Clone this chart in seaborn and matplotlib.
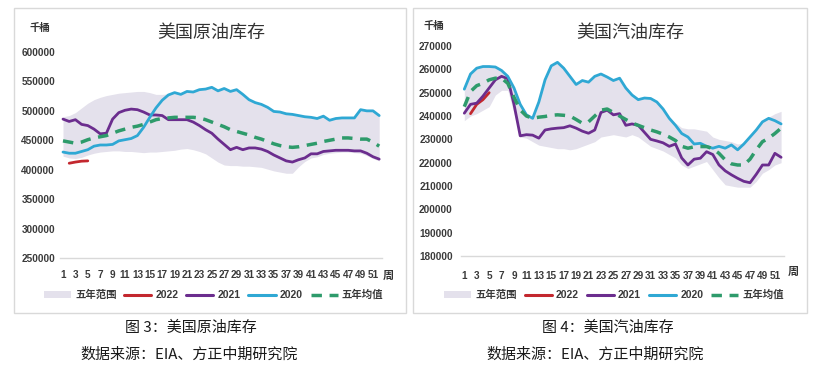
import numpy as np
import pandas as pd
import matplotlib
matplotlib.use("Agg")
import matplotlib.pyplot as plt
import seaborn as sns
from matplotlib.patches import Patch, Rectangle
from matplotlib.lines import Line2D

# ---------------- data (thousand barrels, weekly) ----------------
weeks = list(range(1, 53))
weeks_2022 = [2, 3, 4, 5]

crude_2020 = [430, 428, 428, 431, 434, 440, 442, 442, 443, 449,
              451, 453, 458, 472, 489, 505, 518, 527, 531, 528,
              533, 532, 536, 537, 540, 534, 538, 533, 536, 528,
              519, 514, 511, 506, 499, 498, 495, 494, 492, 490,
              489, 487, 491, 484, 487, 488, 488, 488, 502, 500,
              500, 492]
crude_2021 = [486, 482, 485, 477, 475, 469, 461, 462, 486, 497,
              501, 503, 502, 498, 493, 493, 492, 485, 485, 485,
              485, 481, 475, 468, 462, 452, 443, 434, 438, 434,
              437, 437, 435, 431, 425, 420, 415, 413, 417, 420,
              427, 427, 431, 432, 433, 433, 433, 432, 432, 428,
              422, 418]
crude_2022 = [411, 413, 414.5, 415]
crude_avg = [449, 447, 445, 447, 451, 454, 456, 458, 462, 466,
             469, 472, 474, 477, 481, 485, 487, 488, 489, 489,
             489, 489, 488, 485, 481, 477, 473, 468, 465, 462,
             459, 455, 452, 448, 444, 441, 439, 438, 439, 441,
             443, 445, 448, 450, 452, 454, 454, 453, 452, 452,
             447, 440]
crude_hi = [490, 492, 497, 505, 513, 519, 523, 526, 528, 530,
            531, 532, 533, 533, 531, 528, 528, 529, 532, 530,
            534, 533, 537, 538, 541, 536, 539, 535, 537, 529,
            520, 515, 512, 507, 500, 499, 496, 495, 493, 491,
            490, 488, 492, 485, 488, 489, 489, 489, 503, 501,
            501, 493]
crude_lo = [423, 420, 419, 421, 425, 428, 430, 431, 432, 432,
            431, 431, 430, 429, 430, 430, 431, 432, 433, 435,
            436, 434, 431, 427, 420, 413, 408, 407, 407, 406,
            406, 405, 404, 401, 398, 396, 394, 394, 405, 414,
            420, 422, 426, 428, 429, 430, 430, 429, 428, 424,
            419, 415]

gas_2020 = [251.5, 258, 260.5, 261.2, 261.2, 261, 259.5, 257, 252, 245,
            240.5, 239, 246, 255.5, 261.5, 263, 260.5, 257, 253.5, 255.2,
            254.5, 257, 258, 256.7, 255.2, 256.2, 252, 249, 247, 247.7,
            247.5, 246, 243, 239, 236, 232.5, 231, 228, 228.3, 227,
            226.2, 227, 226.2, 227.6, 225.5, 228, 231, 234, 237.5, 239,
            238, 236.6]
gas_2021 = [241.2, 245, 245.5, 248.5, 252, 255.5, 257, 256, 245, 231.5,
            232, 231.8, 230.5, 234, 234.5, 234.8, 235, 235.8, 234.8, 233.5,
            232.6, 234, 241.5, 242.5, 240.5, 241, 236, 236.6, 236, 233,
            230, 229.3, 228.5, 227, 228, 222, 219, 221.5, 221.9, 224.7,
            223.5, 219, 216.5, 214.8, 213.3, 212, 211.4, 215, 219, 219,
            224, 222.3]
gas_2022 = [241, 245, 247, 250]
gas_avg = [244, 250.5, 253, 254, 255.5, 256.2, 256.2, 254, 248, 242.6,
           240, 239, 239.5, 239.8, 240.3, 240.5, 240.3, 240, 238.5, 236.9,
           237.5, 240, 242.5, 243, 241.5, 240, 238.5, 237, 236, 235,
           234, 233.2, 232.2, 231, 229.5, 227, 226.2, 226.8, 226.9, 226.9,
           226, 224, 221.2, 219.5, 219, 219, 221.5, 225.5, 229, 230.5,
           232.5, 234.8]
gas_hi = [252, 258.5, 261, 261.7, 261.7, 261.5, 260, 257.5, 252.5, 245.5,
          241, 239.5, 246.5, 256, 262, 263.5, 261, 257.5, 254, 255.7,
          255, 257.5, 258.5, 257.2, 255.7, 256.7, 252.5, 249.5, 247.5, 248.2,
          248, 246.5, 243.5, 239.5, 237, 235, 234.5, 234.5, 234, 233.5,
          231, 230, 229.5, 229, 228, 228.5, 231.5, 234.5, 238, 239.5,
          241, 242]
gas_lo = [238, 240, 241, 242.5, 244, 249, 251, 251, 241, 231,
          230.5, 229, 227.5, 227, 226.5, 226, 226, 225.5, 226, 227,
          228, 229, 231, 231.5, 232, 231.5, 231, 232, 231, 229,
          227, 226, 225, 223.5, 222, 219, 217.5, 218.5, 219.5, 220.5,
          217, 213.5, 210.5, 210, 209.5, 209.5, 209.5, 212, 215.5, 217,
          219, 220]

legend_labels = ["五年范围", "2022", "2021", "2020", "五年均值"]
titles = ["美国原油库存", "美国汽油库存"]
captions = ["图 3：美国原油库存", "图 4：美国汽油库存"]
source = "数据来源：EIA、方正中期研究院"
unit = "千桶"
week_word = "周"
crude_yticks = list(range(250000, 600001, 50000))
gas_yticks = list(range(180000, 270001, 10000))

# ---------------- style ----------------
sns.set_theme(style="white")
plt.rcParams["font.family"] = ["Liberation Sans", "Noto Sans CJK SC", "DejaVu Sans"]
plt.rcParams["axes.unicode_minus"] = False

C_SHADE = "#E4E1EC"
C_RED = "#C3272E"
C_PURPLE = "#6B2D8E"
C_CYAN = "#2FA8D4"
C_GREEN = "#2E9B6B"
C_TICK = "#3A3A3A"

W, H = 816, 376
fig = plt.figure(figsize=(W / 100, H / 100), dpi=100)
fig.patch.set_facecolor("white")


def fx(px):
    return px / W


def fy(py):
    return 1 - py / H


# panel frames
for x0, x1 in [(14, 406), (413, 807)]:
    fig.add_artist(Rectangle((fx(x0), fy(313)), fx(x1 - x0), (313 - 8) / H,
                             transform=fig.transFigure, fill=False,
                             edgecolor="#D9D9D9", linewidth=1.0))

ax1 = fig.add_axes([fx(59.9), fy(258), fx(322.4), (258 - 52) / H])
ax2 = fig.add_axes([fx(461.2), fy(256), fx(323.0), (256 - 46) / H])

dash = (0, (3.0, 2.2))


def draw(ax, lo, hi, s2022, s2021, s2020, avg, ylim, yticks, xpad, ypad):
    df = pd.DataFrame({"week": weeks,
                       "lo": np.array(lo) * 1000, "hi": np.array(hi) * 1000,
                       "y2021": np.array(s2021) * 1000,
                       "y2020": np.array(s2020) * 1000,
                       "avg": np.array(avg) * 1000})
    d22 = pd.DataFrame({"week": weeks_2022, "v": np.array(s2022) * 1000})
    ax.fill_between(df["week"], df["lo"], df["hi"], color=C_SHADE, linewidth=0, zorder=1)
    sns.lineplot(data=d22, x="week", y="v", ax=ax, color=C_RED, linewidth=2.0, zorder=3)
    sns.lineplot(data=df, x="week", y="y2021", ax=ax, color=C_PURPLE, linewidth=2.0, zorder=3)
    sns.lineplot(data=df, x="week", y="y2020", ax=ax, color=C_CYAN, linewidth=2.0, zorder=3)
    sns.lineplot(data=df, x="week", y="avg", ax=ax, color=C_GREEN, linewidth=2.5,
                 linestyle=dash, zorder=4)
    ax.set_xlim(0.5, 52.5)
    ax.set_ylim(*ylim)
    ax.set_yticks(yticks)
    ax.set_yticklabels([str(v) for v in yticks])
    ax.set_xticks(list(range(1, 53, 2)))
    ax.set_xticklabels([str(w) for w in range(1, 53, 2)])
    ax.set_xlabel("")
    ax.set_ylabel("")
    for s in ["left", "right", "top"]:
        ax.spines[s].set_visible(False)
    ax.spines["bottom"].set_color("#D9D9D9")
    ax.spines["bottom"].set_linewidth(1.0)
    ax.tick_params(axis="both", length=0, labelsize=7.2, labelcolor=C_TICK)
    ax.tick_params(axis="x", pad=xpad)
    ax.tick_params(axis="y", pad=ypad)
    for t in ax.get_xticklabels() + ax.get_yticklabels():
        t.set_fontweight("bold")
    ax.set_facecolor("none")
    ax.grid(False)


draw(ax1, crude_lo, crude_hi, crude_2022, crude_2021, crude_2020, crude_avg,
     (250000, 600000), crude_yticks, 8.5, 3.5)
draw(ax2, gas_lo, gas_hi, gas_2022, gas_2021, gas_2020, gas_avg,
     (180000, 270000), gas_yticks, 10.5, 6.0)

# titles, unit, week labels
txt_kw = dict(ha="center", va="center", color="#333333")
fig.text(fx(211), fy(33), titles[0], fontsize=13, **txt_kw)
fig.text(fx(630), fy(33), titles[1], fontsize=13, **txt_kw)
fig.text(fx(40), fy(28), unit, fontsize=7.5, fontweight="bold", **txt_kw)
fig.text(fx(434), fy(26), unit, fontsize=7.5, fontweight="bold", **txt_kw)
fig.text(fx(388), fy(276), week_word, fontsize=8, fontweight="bold", **txt_kw)
fig.text(fx(793), fy(272), week_word, fontsize=8, fontweight="bold", **txt_kw)

# legends
handles = [Patch(facecolor=C_SHADE, edgecolor="none"),
           Line2D([], [], color=C_RED, lw=2.2),
           Line2D([], [], color=C_PURPLE, lw=2.2),
           Line2D([], [], color=C_CYAN, lw=2.2),
           Line2D([], [], color=C_GREEN, lw=2.5, linestyle=dash)]
for cx in [213.5, 614]:
    leg = fig.legend(handles, legend_labels, ncol=5, loc="center",
                     bbox_to_anchor=(fx(cx), fy(295)), frameon=False,
                     prop={"size": 7.5, "weight": "bold"},
                     handlelength=2.6, handletextpad=0.4, columnspacing=0.75,
                     borderpad=0, borderaxespad=0)
    for t in leg.get_texts():
        t.set_color(C_TICK)

# captions
cap_kw = dict(ha="center", va="center", color="#1A1A1A", fontsize=10.8,
              family=["Noto Sans CJK SC", "DejaVu Sans"])
fig.text(fx(191), fy(328), captions[0], **cap_kw)
fig.text(fx(608), fy(328), captions[1], **cap_kw)
fig.text(fx(189), fy(355), source, **cap_kw)
fig.text(fx(595), fy(355), source, **cap_kw)

fig.savefig("out.png", dpi=100, facecolor="white")
